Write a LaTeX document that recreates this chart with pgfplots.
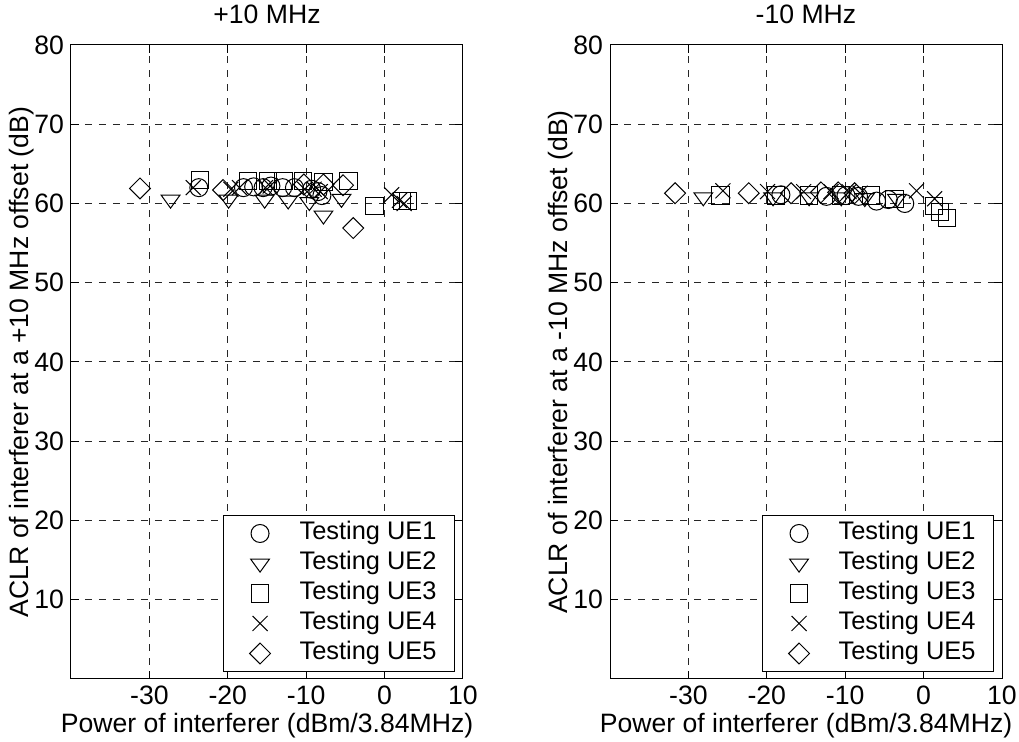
\documentclass[border=0pt]{standalone}
\usepackage{fontspec}
\setmainfont{Liberation Sans}
\usepackage{pgfplots}
\pgfplotsset{compat=1.18}

\pgfplotsset{
 myaxis/.style={
  scale only axis, width=196pt, height=317pt,
  xmin=-40, xmax=10, ymin=0, ymax=80,
  xtick={-30,-20,...,10}, ytick={10,20,...,80},
  grid=major,
  major grid style={dash pattern=on 3.5pt off 3.5pt, black!85, line width=0.5pt},
  tick align=inside, major tick length=4pt,
  axis line style={line width=0.5pt},
  every tick/.style={black, line width=0.5pt},
  font=\fontsize{13.3}{15}\selectfont,
  /pgf/number format/assume math mode=true,
  legend style={at={(1,0)}, anchor=south east, xshift=-4pt, yshift=3.5pt,
    draw=black, line width=0.5pt, inner xsep=5pt, inner ysep=1.5pt,
    font=\fontsize{12.7}{14}\selectfont,
    nodes={inner xsep=4pt, inner ysep=1.5pt, text height=9.2pt, text depth=2.8pt},
    /tikz/every odd column/.append style={column sep=2.5pt}},
  legend cell align=left,
  legend image code/.code={\path (0pt,0pt) (26pt,0pt); \draw[##1] plot coordinates {(13pt,0pt)};},
  title style={yshift=1pt},
  ylabel shift=-6.5pt,
  xlabel shift=-2.5pt,
  xlabel={Power of interferer (dBm/3.84MHz)},
 },
 ue1/.style={only marks, black, line width=0.5pt, mark=o, mark size=4.5pt},
 ue2/.style={only marks, black, line width=0.5pt, mark=triangle, mark size=5.4pt, mark options={rotate=180, yscale=0.8}},
 ue3/.style={only marks, black, line width=0.5pt, mark=square, mark size=4.3pt},
 ue4/.style={only marks, black, line width=0.5pt, mark=x, mark size=5.3pt},
 ue5/.style={only marks, black, line width=0.5pt, mark=square, mark size=3.7pt, mark options={rotate=45}},
}

\begin{document}
\begin{tikzpicture}
\begin{axis}[myaxis, title={+10 MHz}, ylabel={ACLR of interferer at a +10 MHz offset (dB)}]
\addplot[ue1] coordinates {(-23.7,62.0) (-18.0,62.0) (-16.7,62.1) (-15.5,62.0) (-14.5,62.2) (-13.0,62.0) (-11.5,62.0) (-9.3,61.8) (-8.5,61.5) (-8.0,61.0)};
\addlegendentry{Testing UE1}
\addplot[ue2] coordinates {(-27.3,60.5) (-19.9,60.5) (-15.3,60.5) (-12.3,60.4) (-9.6,60.2) (-7.8,58.5) (-5.5,60.6)};
\addlegendentry{Testing UE2}
\addplot[ue3] coordinates {(-23.5,63.0) (-17.4,62.8) (-14.9,62.8) (-12.9,62.8) (-10.4,62.8) (-7.8,62.7) (-4.6,62.8) (-1.3,59.7) (2.2,60.3) (3.0,60.3)};
\addlegendentry{Testing UE3}
\addplot[ue4] coordinates {(-24.4,62.0) (-19.6,61.8) (-18.5,62.0) (-15.2,62.0) (-14.6,62.2) (-10.2,61.8) (-9.0,61.8) (-8.2,61.5) (0.9,61.1) (1.9,60.4) (2.5,60.0)};
\addlegendentry{Testing UE4}
\addplot[ue5] coordinates {(-31.2,61.9) (-20.6,61.7) (-10.3,62.4) (-7.8,62.4) (-5.3,62.3) (-4.0,56.9)};
\addlegendentry{Testing UE5}
\end{axis}
\begin{axis}[myaxis, at={(269.5pt,0pt)}, title={-10 MHz}, ylabel={ACLR of interferer at a -10 MHz offset (dB)}]
\addplot[ue1] coordinates {(-18.2,61.1) (-12.4,60.9) (-9.9,61.0) (-8.3,60.9) (-6.0,60.3) (-4.5,60.5) (-2.4,60.0)};
\addlegendentry{Testing UE1}
\addplot[ue2] coordinates {(-28.1,60.8) (-19.2,60.8) (-14.6,60.8) (-10.5,60.8) (-7.5,60.7) (-3.4,60.6)};
\addlegendentry{Testing UE2}
\addplot[ue3] coordinates {(-25.9,61.0) (-18.8,61.0) (-14.6,61.0) (-10.5,61.0) (-6.7,61.0) (-3.7,60.6) (1.3,59.7) (2.1,58.9) (3.0,58.2)};
\addlegendentry{Testing UE3}
\addplot[ue4] coordinates {(-25.6,61.6) (-19.9,61.5) (-15.3,61.5) (-11.8,61.5) (-9.5,61.5) (-8.1,61.3) (-0.9,61.6) (1.4,60.6)};
\addlegendentry{Testing UE4}
\addplot[ue5] coordinates {(-31.7,61.3) (-22.3,61.3) (-16.9,61.3) (-13.1,61.4) (-10.9,61.4) (-8.8,61.3)};
\addlegendentry{Testing UE5}
\end{axis}
\pgfresetboundingbox
\path (-35.5pt,-31.5pt) rectangle (474pt,339.5pt);
\end{tikzpicture}
\end{document}
